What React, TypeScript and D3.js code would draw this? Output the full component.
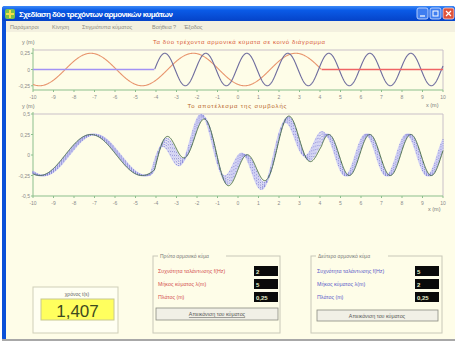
import React from 'react';
import * as d3 from 'd3';

// ---- data (parameters read from the GUI) ----
const X_TICKS = [-10, -9, -8, -7, -6, -5, -4, -3, -2, -1, 0, 1, 2, 3, 4, 5, 6, 7, 8, 9, 10];
const TOP_Y_TICKS = [-0.25, 0, 0.25];
const BOT_Y_TICKS = [-0.5, -0.25, 0, 0.25, 0.5];
const WAVE_FREQ = [2, 5];          // Hz
const WAVE_LAMBDA = [5, 2];        // m
const WAVE_AMP = [0.25, 0.25];     // m
const WAVE_SOURCE = [-10, 10];     // m
const WAVE_DIR = [1, -1];
const TIME = 1.407;                // s
const TRAIL = [0.004, 0.008, 0.012, 0.016, 0.02];
const MENU_ITEMS = ['Παράμετροι', 'Κίνηση', 'Στιγμιότυπα κύματος', 'Βοήθεια', '?', 'Έξοδος'];
const MENU_X = [10, 52, 82, 152, 173, 184];
const GROUP_LABELS = ['Συχνότητα ταλάντωσης f(Hz)', 'Μήκος κύματος λ(m)', 'Πλάτος (m)'];
const GROUP1_VALUES = ['2', '5', '0,25'];
const GROUP2_VALUES = ['5', '2', '0,25'];

const fmt = (v: number) => (v === 0 ? '0' : String(v).replace('.', ','));

function reach(i: number, x: number, t: number) {
  const d = (x - WAVE_SOURCE[i]) * WAVE_DIR[i];
  return d >= 0 && d <= WAVE_FREQ[i] * WAVE_LAMBDA[i] * t;
}
function wave(i: number, x: number, t: number) {
  const d = (x - WAVE_SOURCE[i]) * WAVE_DIR[i];
  if (!reach(i, x, t)) return 0;
  return WAVE_AMP[i] * Math.sin(2 * Math.PI * (WAVE_FREQ[i] * t - d / WAVE_LAMBDA[i]));
}

const xs = d3.range(-10, 10.0001, 0.02);

export default function App() {
  const x = d3.scaleLinear().domain([-10, 10]).range([33, 443]);
  const yTop = d3.scaleLinear().domain([-0.3, 0.3]).range([89, 50]);
  const yBot = d3.scaleLinear().domain([-0.5, 0.5]).range([196, 114]);

  const topLine = (i: number, active: boolean) =>
    d3
      .line<number>()
      .defined((d) => reach(i, d, TIME) === active)
      .x((d) => x(d))
      .y((d) => yTop(wave(i, d, TIME)))(xs) || '';
  const sumLine = (t: number) =>
    d3.line<number>().x((d) => x(d)).y((d) => yBot(wave(0, d, t) + wave(1, d, t)))(xs) || '';
  const dotXs = d3.range(-10, 10.0001, 0.1);

  const font = 'Liberation Sans, DejaVu Sans, sans-serif';
  const R = x.range();

  return (
    <svg width={455} height={345} style={{ position: 'absolute', left: 0, top: 0 }} fontFamily={font}>
      <defs>
        <linearGradient id="tb" x1="0" y1="0" x2="0" y2="1">
          <stop offset="0" stopColor="#3d8af7" />
          <stop offset="0.3" stopColor="#0a5ae6" />
          <stop offset="1" stopColor="#0543c8" />
        </linearGradient>
      </defs>
      <rect x={0} y={0} width={455} height={345} fill="#ffffff" />
      {/* window frame */}
      <rect x={2} y={6} width={453} height={335} fill="#0a50d8" rx={3} />
      <rect x={2} y={6} width={453} height={15} fill="url(#tb)" rx={3} />
      {/* icon */}
      <rect x={5} y={9} width={10} height={10} fill="#7cc04a" rx={2} />
      <path d="M6 14 L14 14 M10 10 L10 18" stroke="#f4e04a" strokeWidth={2} />
      <text x={19} y={17} fill="#ffffff" fontSize={8} fontWeight="bold" textLength={154}>
        Σχεδίαση δύο τρεχόντων αρμονικών κυμάτων
      </text>
      {/* window buttons */}
      <rect x={417} y={8} width={11} height={11} fill="#3f7ef0" stroke="#d8e4ff" strokeWidth={0.8} rx={2} />
      <rect x={430} y={8} width={11} height={11} fill="#3f7ef0" stroke="#d8e4ff" strokeWidth={0.8} rx={2} />
      <rect x={443} y={8} width={11} height={11} fill="#e0533a" stroke="#ffd8d0" strokeWidth={0.8} rx={2} />
      <path d="M420 16 L425 16" stroke="#fff" strokeWidth={1.2} />
      <rect x={433} y={11} width={5} height={5} fill="none" stroke="#fff" strokeWidth={1} />
      <path d="M446 11 L451 16 M451 11 L446 16" stroke="#fff" strokeWidth={1.2} />
      {/* menu bar */}
      <rect x={6} y={21} width={449} height={11} fill="#f3f0df" />
      {MENU_ITEMS.map((m, i) => (
        <text key={m} x={MENU_X[i]} y={29} fontSize={5.5} fill="#8a8a80">
          {m}
        </text>
      ))}
      {/* content */}
      <rect x={6} y={32} width={449} height={307} fill="#fefde8" />
      <rect x={2} y={339} width={453} height={2} fill="#a8a8a8" />

      {/* ---- top chart ---- */}
      <text x={22} y={44} fontSize={5.5} fill="#777">y (m)</text>
      <text x={239} y={44} fontSize={6} fill="#d85a3a" textAnchor="middle" textLength={172}>
        Τα δύο τρέχοντα αρμονικά κύματα σε κοινό διάγραμμα
      </text>
      <line x1={R[0]} x2={R[1]} y1={50} y2={50} stroke="#c9c0c8" strokeWidth={1} />
      <line x1={R[1]} x2={R[1]} y1={50} y2={90} stroke="#c9c0c8" strokeWidth={1} />
      <line x1={R[0]} x2={R[0]} y1={48} y2={90} stroke="#8cbf8c" strokeWidth={1} />
      <line x1={R[0]} x2={R[1]} y1={90} y2={90} stroke="#8cbf8c" strokeWidth={1} />
      {X_TICKS.map((t) => (
        <g key={'tt' + t}>
          <line x1={x(t)} x2={x(t)} y1={90} y2={92} stroke="#8cbf8c" />
          <text x={x(t)} y={99} fontSize={5} fill="#8a8a8a" textAnchor="middle">{fmt(t)}</text>
        </g>
      ))}
      {TOP_Y_TICKS.map((t) => (
        <g key={'ty' + t}>
          <line x1={31} x2={R[0]} y1={yTop(t)} y2={yTop(t)} stroke="#8cbf8c" />
          <text x={30} y={yTop(t) + 2} fontSize={5} fill="#8a8a8a" textAnchor="end">{fmt(t)}</text>
        </g>
      ))}
      <path d={topLine(0, true)} fill="none" stroke="#e8956e" strokeWidth={1.1} />
      <path d={topLine(1, true)} fill="none" stroke="#6e6c9e" strokeWidth={1.1} />
      <path d={topLine(1, false)} fill="none" stroke="#a292f4" strokeWidth={1.4} />
      <path d={topLine(0, false)} fill="none" stroke="#f06464" strokeWidth={1.4} />
      <text x={426} y={107} fontSize={5.5} fill="#777">x (m)</text>

      {/* ---- bottom chart ---- */}
      <text x={22} y={108} fontSize={5.5} fill="#777">y (m)</text>
      <text x={237} y={108} fontSize={6} fill="#b8652a" textAnchor="middle" textLength={99}>
        Το αποτέλεσμα της συμβολής
      </text>
      <line x1={R[0]} x2={R[1]} y1={114} y2={114} stroke="#c9c0c8" strokeWidth={1} />
      <line x1={R[1]} x2={R[1]} y1={114} y2={196} stroke="#c9c0c8" strokeWidth={1} />
      <line x1={R[0]} x2={R[0]} y1={112} y2={196} stroke="#8cbf8c" strokeWidth={1} />
      <line x1={R[0]} x2={R[1]} y1={196} y2={196} stroke="#8cbf8c" strokeWidth={1} />
      {X_TICKS.map((t) => (
        <g key={'bt' + t}>
          <line x1={x(t)} x2={x(t)} y1={196} y2={198} stroke="#8cbf8c" />
          <text x={x(t)} y={205} fontSize={5} fill="#8a8a8a" textAnchor="middle">{fmt(t)}</text>
        </g>
      ))}
      {BOT_Y_TICKS.map((t) => (
        <g key={'by' + t}>
          <line x1={31} x2={R[0]} y1={yBot(t)} y2={yBot(t)} stroke="#8cbf8c" />
          <text x={30} y={yBot(t) + 2} fontSize={5} fill="#8a8a8a" textAnchor="end">{fmt(t)}</text>
        </g>
      ))}
      {TRAIL.map((dt) => (
        <path key={'tr' + dt} d={sumLine(TIME + dt)} fill="none" stroke="#d0d0f4" strokeWidth={1.6} />
      ))}
      {TRAIL.map((dt) => (
        <g key={'dots' + dt}>
          {dotXs.map((d) => (
            <circle key={d} cx={x(d)} cy={yBot(wave(0, d, TIME + dt) + wave(1, d, TIME + dt))} r={0.5} fill="#8080d0" />
          ))}
        </g>
      ))}
      <path d={sumLine(TIME)} fill="none" stroke="#4a6e4a" strokeWidth={1} />
      <text x={428} y={211} fontSize={5.5} fill="#777">x (m)</text>

      {/* ---- time box ---- */}
      <rect x={33} y={287} width={85} height={46} fill="#fffff2" stroke="#cfcfb8" strokeWidth={1} />
      <text x={77} y={296} fontSize={5} fill="#666" textAnchor="middle">χρόνος t(s)</text>
      <rect x={41} y={299} width={73} height={21} fill="#ffff5e" stroke="#c8c890" strokeWidth={1} />
      <text x={77.5} y={317} fontSize={17} fill="#3e4a20" textAnchor="middle">{fmt(TIME)}</text>

      {/* ---- group 1 ---- */}
      <rect x={153} y={256} width={127} height={77} fill="none" stroke="#c8c8b8" strokeWidth={1} />
      <rect x={158} y={252} width={68} height={8} fill="#fefde8" />
      <text x={160} y={258} fontSize={5} fill="#777">Πρώτο αρμονικό κύμα</text>
      {GROUP_LABELS.map((l, i) => (
        <g key={'g1' + i}>
          <text x={158} y={273 + i * 13} fontSize={5.3} fill="#d45050">{l}</text>
          <rect x={254} y={266 + i * 13} width={24} height={10} fill="#0a0a0a" />
          <text x={256} y={274 + i * 13} fontSize={6} fill="#e6efc8" fontWeight="bold">{GROUP1_VALUES[i]}</text>
        </g>
      ))}
      <rect x={156} y={308} width={122} height={12} fill="#f1f0e6" stroke="#8a8a80" strokeWidth={0.8} />
      <text x={217} y={316} fontSize={5.3} fill="#555" textAnchor="middle" textDecoration="underline">
        Απεικόνιση του κύματος
      </text>

      {/* ---- group 2 ---- */}
      <rect x={311} y={256} width={131} height={77} fill="none" stroke="#c8c8b8" strokeWidth={1} />
      <rect x={316} y={252} width={72} height={8} fill="#fefde8" />
      <text x={318} y={258} fontSize={5} fill="#777">Δεύτερο αρμονικό κύμα</text>
      {GROUP_LABELS.map((l, i) => (
        <g key={'g2' + i}>
          <text x={317} y={273 + i * 13} fontSize={5.3} fill="#5a5ac8">{l}</text>
          <rect x={415} y={266 + i * 13} width={24} height={10} fill="#0a0a0a" />
          <text x={417} y={274 + i * 13} fontSize={6} fill="#e6efc8" fontWeight="bold">{GROUP2_VALUES[i]}</text>
        </g>
      ))}
      <rect x={317} y={310} width={121} height={11} fill="#f1f0e6" stroke="#8a8a80" strokeWidth={0.8} />
      <text x={377} y={317.5} fontSize={5.3} fill="#555" textAnchor="middle">
        Απεικόνιση του κύματος
      </text>
    </svg>
  );
}
